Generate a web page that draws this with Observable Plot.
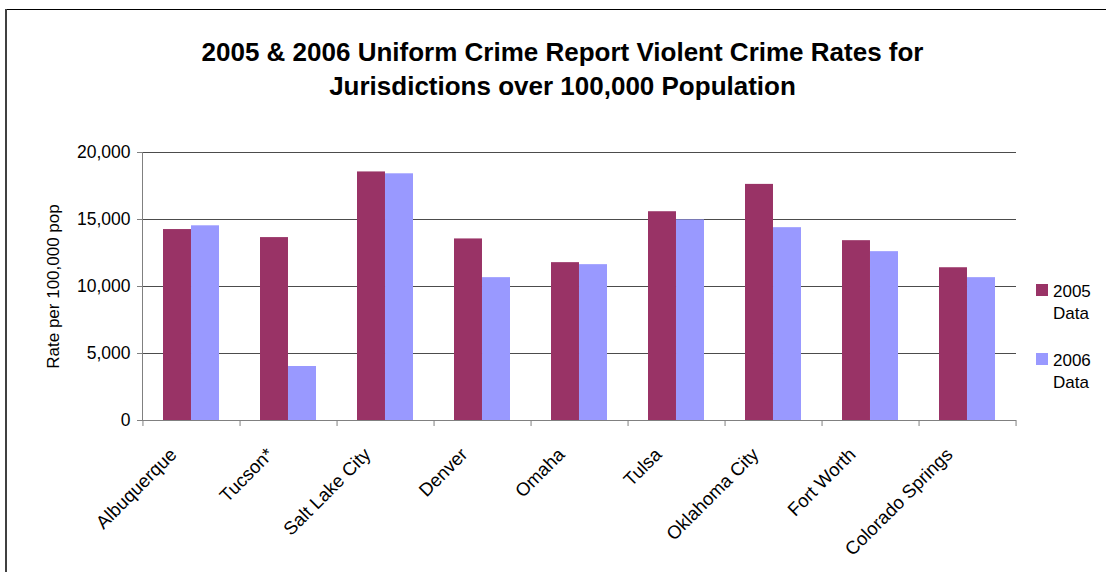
<!DOCTYPE html>
<html>
<head>
<meta charset="utf-8">
<script src="https://cdn.jsdelivr.net/npm/d3@7"></script>
<script src="https://cdn.jsdelivr.net/npm/@observablehq/plot@0.6"></script>
<style>
  html, body { margin: 0; padding: 0; background: #fff; }
  body { font-family: "Liberation Sans", Arial, sans-serif; }
  #wrap { position: relative; width: 1106px; height: 572px; overflow: hidden; }
  #topline { position: absolute; left: 6px; right: 0; top: 9px; height: 1px; background: #000; }
  #leftline { position: absolute; left: 5px; top: 9px; bottom: 0; width: 2px; background: #404040; }
  #title { height: 130px; box-sizing: border-box; padding-top: 35px; padding-left: 19px;
           text-align: center; font-weight: bold; font-size: 26px; line-height: 34px; color: #000; }
  #legend { position: absolute; left: 1036px; top: 281px; font-size: 17px; line-height: 22px; color: #000; }
  .item { position: relative; padding-left: 17px; margin-bottom: 25px; }
  .sw { position: absolute; left: 0; top: 3px; width: 12px; height: 12px; }
</style>
</head>
<body>
<div id="wrap">
  <div id="topline"></div>
  <div id="leftline"></div>
  <div id="title">2005 &amp; 2006 Uniform Crime Report Violent Crime Rates for<br>Jurisdictions over 100,000 Population</div>
  <div id="chart"></div>
  <div id="legend"></div>
</div>
<script>
const cities = ["Albuquerque", "Tucson*", "Salt Lake City", "Denver", "Omaha", "Tulsa", "Oklahoma City", "Fort Worth", "Colorado Springs"];
const data2005 = [14250, 13650, 18550, 13550, 11780, 15580, 17620, 13420, 11400];
const data2006 = [14530, 4030, 18410, 10660, 11630, 14970, 14390, 12600, 10660];
const yTicks = [0, 5000, 10000, 15000, 20000];
const seriesNames = ["2005\nData", "2006\nData"];
const seriesColors = ["#993366", "#9999FF"];

const W = 1106, H = 442;
const mL = 142, mR = 90, mT = 22, mB = 152;
const padInner = 0.423;
const step = (W - mL - mR) / cities.length;
const bw = step * (1 - padInner);

const rows05 = cities.map((c, i) => ({city: c, value: data2005[i]}));
const rows06 = cities.map((c, i) => ({city: c, value: data2006[i]}));

const font = "'Liberation Sans', Arial, sans-serif";

const chart = Plot.plot({
  width: W, height: H,
  marginLeft: mL, marginRight: mR, marginTop: mT, marginBottom: mB,
  style: {fontFamily: font, background: "transparent", color: "#000"},
  x: {domain: cities, paddingInner: padInner, paddingOuter: padInner / 2, axis: null},
  y: {domain: [0, 20000], axis: null},
  marks: [
    Plot.ruleY(yTicks.filter(d => d > 0), {stroke: "#000", strokeOpacity: 0.7}),
    Plot.barY(rows05, {x: "city", y: "value", fill: seriesColors[0], insetRight: bw / 2}),
    Plot.barY(rows06, {x: "city", y: "value", fill: seriesColors[1], insetLeft: bw / 2}),
    Plot.ruleY([0], {stroke: "#808080"}),
    Plot.frame({anchor: "left", stroke: "#808080"}),
    Plot.axisY({ticks: yTicks, tickFormat: d3.format(","), tickSize: 5, tickPadding: 7, fontSize: 17.5, label: null, stroke: "#808080"}),
    Plot.axisX({tickSize: 6, dx: step / 2, tickFormat: () => "", label: null, stroke: "#808080"}),
    Plot.axisX({ticks: [cities[0]], tickSize: 6, dx: -step / 2, tickFormat: () => "", label: null, stroke: "#808080"}),
    Plot.text(cities, {x: d => d, frameAnchor: "bottom", text: d => d, rotate: -45, textAnchor: "end",
      lineAnchor: "middle", fontSize: 18.5, dx: -18, dy: 31, fill: "#000"}),
    Plot.text(["Rate per 100,000 pop"], {frameAnchor: "left", text: d => d, rotate: -90, textAnchor: "middle",
      lineAnchor: "middle", fontSize: 17, dx: -89, fill: "#000"})
  ]
});
document.getElementById("chart").appendChild(chart);

const legend = document.getElementById("legend");
seriesNames.forEach((name, i) => {
  const item = document.createElement("div");
  item.className = "item";
  const sw = document.createElement("div");
  sw.className = "sw";
  sw.style.background = seriesColors[i];
  item.appendChild(sw);
  name.split("\n").forEach(line => {
    const l = document.createElement("div");
    l.textContent = line;
    item.appendChild(l);
  });
  legend.appendChild(item);
});
</script>
</body>
</html>
